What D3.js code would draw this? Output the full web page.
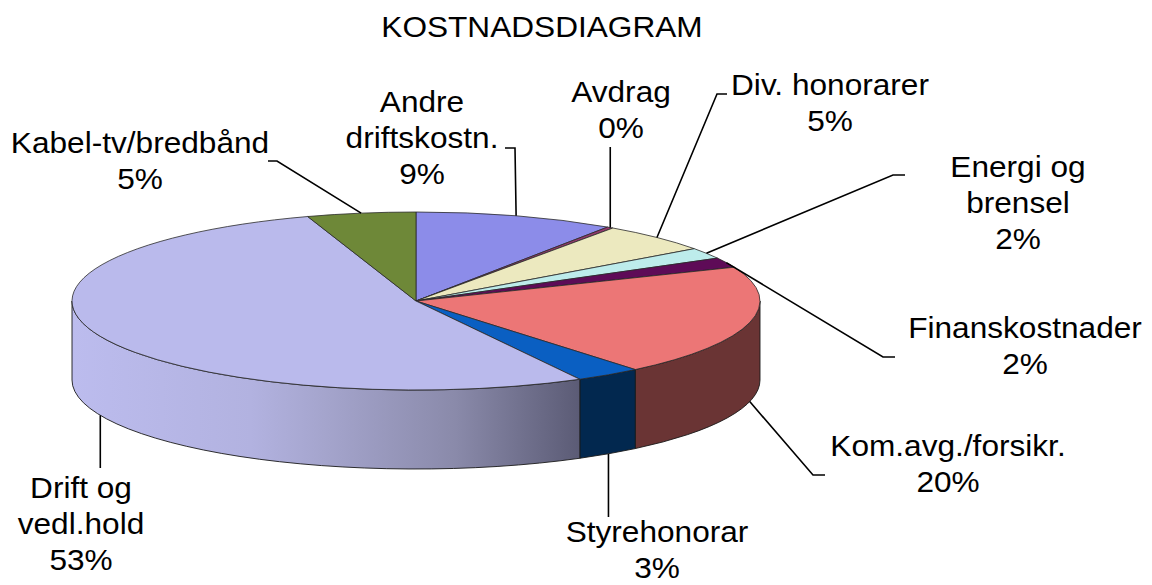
<!DOCTYPE html>
<html>
<head>
<meta charset="utf-8">
<script src="https://cdn.jsdelivr.net/npm/d3@7"></script>
<style>
  body { margin: 0; background: #fff; }
  svg { display: block; }
  text { font-family: "Liberation Sans", Arial, sans-serif; fill: #000; }
</style>
</head>
<body>
<div id="chart"></div>
<script>
var title = 'KOSTNADSDIAGRAM';
var categories = ['Andre driftskostn.', 'Avdrag', 'Div. honorarer', 'Energi og brensel', 'Finanskostnader',
                  'Kom.avg./forsikr.', 'Styrehonorar', 'Drift og vedl.hold', 'Kabel-tv/bredbånd'];
var labelLines = [['Andre', 'driftskostn.'], ['Avdrag'], ['Div. honorarer'], ['Energi og', 'brensel'], ['Finanskostnader'],
                  ['Kom.avg./forsikr.'], ['Styrehonorar'], ['Drift og', 'vedl.hold'], ['Kabel-tv/bredbånd']];
var values = [9.4, 0.3, 5.3, 2.0, 1.8, 20.2, 3.1, 52.8, 5.1];

var topColors = ['#8c8ce9', '#933a6c', '#ece9bf', '#bdeceb', '#5e0b57', '#ec7676', '#0a5fc2', '#babaec', '#6e8838'];
var sideColors = ['#4a4a8a', '#4a1d36', '#76745f', '#5e7675', '#2f052b', '#6a3434', '#02284f', 'url(#driftSide)', '#37441c'];

// where each label sits and where its leader line leaves it
var labelPos = [
  {x: 422, y: 112, lx: 505, ly: 148, ex: 515},
  {x: 621, y: 102, ly: 147},
  {x: 830, y: 95, lx: 727, ly: 94, ex: 717},
  {x: 1018, y: 177, lx: 905, ly: 175, ex: 893},
  {x: 1025, y: 338, lx: 895, ly: 357, ex: 883},
  {x: 948, y: 456, lx: 825, ly: 475, ex: 813},
  {x: 657, y: 542, ly: 517},
  {x: 81, y: 498, ly: 468},
  {x: 140, y: 153, lx: 268, ly: 161, ex: 277}
];

var width = 1152, height = 585;
var cx = 416, cy = 301, rx = 344, ry = 89, depth = 79;
var fontSize = 29, lineH = 36, stretch = 1.09;

var svg = d3.select('#chart').append('svg')
    .attr('width', width)
    .attr('height', height);

var grad = svg.append('defs').append('linearGradient')
    .attr('id', 'driftSide')
    .attr('gradientUnits', 'userSpaceOnUse')
    .attr('x1', cx - rx).attr('x2', 583)
    .attr('y1', 0).attr('y2', 0);
[[0, '#bcbcee'], [0.35, '#b2b2e0'], [0.5, '#a4a4cc'], [0.75, '#8a8aaa'], [1, '#5a5a74']].forEach(function(s) {
  grad.append('stop').attr('offset', s[0]).attr('stop-color', s[1]);
});

var total = d3.sum(values);
var arcs = d3.pie().sort(null).value(function(d) { return d; })(values);

function pt(a, dz) {
  return [cx + rx * Math.sin(a), cy - ry * Math.cos(a) + (dz || 0)];
}

function topPath(d) {
  var s = pt(d.startAngle), e = pt(d.endAngle);
  var large = d.endAngle - d.startAngle > Math.PI ? 1 : 0;
  return 'M' + cx + ',' + cy + 'L' + s + 'A' + rx + ',' + ry + ' 0 ' + large + ' 1 ' + e + 'Z';
}

function sidePath(d) {
  var a0 = Math.max(d.startAngle, Math.PI / 2), a1 = Math.min(d.endAngle, Math.PI * 3 / 2);
  if (a0 >= a1) return null;
  return 'M' + pt(a0) + 'A' + rx + ',' + ry + ' 0 0 1 ' + pt(a1) +
    'L' + pt(a1, depth) + 'A' + rx + ',' + ry + ' 0 0 0 ' + pt(a0, depth) + 'Z';
}

svg.append('g').selectAll('path')
    .data(arcs.filter(function(d) { return sidePath(d); }))
  .enter().append('path')
    .attr('d', sidePath)
    .style('fill', function(d) { return sideColors[d.index]; })
    .style('stroke', '#1a1a1a')
    .style('stroke-width', 0.9);

svg.append('g').selectAll('path')
    .data(arcs)
  .enter().append('path')
    .attr('d', topPath)
    .style('fill', function(d) { return topColors[d.index]; })
    .style('stroke', '#2a2a2a')
    .style('stroke-width', 0.8)
    .style('stroke-linejoin', 'round');

// leader lines: from the label to the slice middle (bottom rim for front slices)
function anchor(d) {
  var a = (d.startAngle + d.endAngle) / 2;
  return pt(a, Math.cos(a) < 0 ? depth : 0);
}

svg.append('g').selectAll('path')
    .data(arcs)
  .enter().append('path')
    .attr('d', function(d) {
      var lp = labelPos[d.index], an = anchor(d);
      if (lp.lx == null) return 'M' + an[0] + ',' + lp.ly + 'L' + an;
      return 'M' + lp.lx + ',' + lp.ly + 'H' + lp.ex + 'L' + an;
    })
    .style('fill', 'none')
    .style('stroke', '#000')
    .style('stroke-width', 1.6);

var labels = svg.append('g').selectAll('text')
    .data(arcs)
  .enter().append('text')
    .attr('transform', function(d) {
      var lp = labelPos[d.index];
      return 'translate(' + lp.x + ',' + lp.y + ') scale(' + stretch + ',1)';
    })
    .attr('text-anchor', 'middle')
    .style('font-size', fontSize + 'px');

labels.selectAll('tspan')
    .data(function(d) {
      return labelLines[d.index].concat([Math.round(d.value / total * 100) + '%']);
    })
  .enter().append('tspan')
    .attr('x', 0)
    .attr('y', function(d, i) { return i * lineH; })
    .text(function(d) { return d; });

svg.append('text')
    .attr('transform', 'translate(542,37) scale(' + stretch + ',1)')
    .attr('text-anchor', 'middle')
    .style('font-size', fontSize + 'px')
    .text(title);
</script>
</body>
</html>
